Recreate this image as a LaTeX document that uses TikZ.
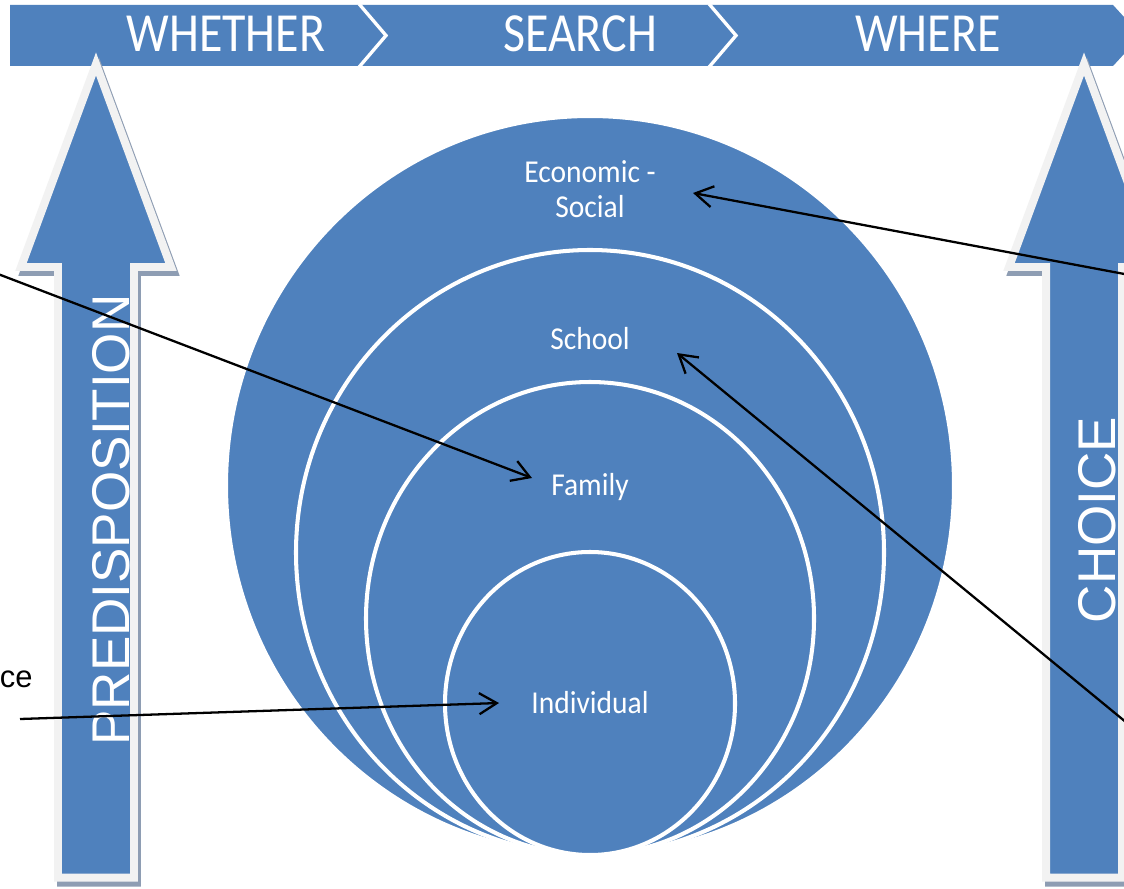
\documentclass[tikz,border=0pt]{standalone}
\usepackage{graphicx}
\usepackage{fontspec}
\setmainfont{Carlito}
\newfontfamily\arialish{Liberation Sans}
\usetikzlibrary{arrows.meta}
\definecolor{accent}{HTML}{4F81BD}
\definecolor{rim}{HTML}{F2F2F2}
\definecolor{shade}{HTML}{8E9DB3}

\begin{document}
\begin{tikzpicture}[x=0.02cm,y=-0.02cm,
  bartext/.style={text=white, font=\fontsize{27.3}{30}\selectfont, anchor=base, inner sep=0},
  ringlabel/.style={text=white, font=\fontsize{16.8}{20}\selectfont, anchor=base, inner sep=0},
  sidelabel/.style={text=white, font=\arialish\fontsize{30.2}{34}\selectfont, rotate=90, anchor=base, inner sep=0},
  ring/.style={fill=accent, draw=white, line width=2.3pt},
  pointer/.style={draw=black, line width=1.3pt, -{Straight Barb[length=10pt,width=12pt]}},
  uparrow/.style={fill=accent, draw=rim, line width=4.55pt, miter limit=10},
  upshadow/.style={fill=shade, draw=shade, line width=4.55pt, miter limit=10}
]
\useasboundingbox (0,0) rectangle (1124,888);
\fill[white] (0,0) rectangle (1124,888);
\clip (0,0) rectangle (1124,888);

% stage bar with chevron separators
\fill[accent] (10,5) -- (1113,5) -- (1141,35.5) -- (1113,66) -- (10,66) -- cycle;
\draw[white, line width=1.9pt] (359.1,4) -- (386,35.5) -- (359.1,67);
\draw[white, line width=1.9pt] (709.1,4) -- (736,35.5) -- (709.1,67);
\node[bartext] (whether) at (226,52) {\scalebox{1}[1.15]{WHETHER}};
\node[bartext] (search) at (580,52) {\scalebox{1}[1.15]{SEARCH}};
\node[bartext] (where) at (928,52) {\scalebox{1}[1.15]{WHERE}};

% upward block arrows with drop shadow
\begin{scope}[shift={(3,5)}]
  \path[upshadow] (96,64) -- (171,267) -- (134,267) -- (134,877.5) -- (58,877.5) -- (58,267) -- (21,267) -- cycle;
  \path[upshadow] (1084,64) -- (1159,267) -- (1122,267) -- (1122,877.5) -- (1046,877.5) -- (1046,267) -- (1009,267) -- cycle;
\end{scope}
\path[uparrow] (96,64) -- (171,267) -- (134,267) -- (134,877.5) -- (58,877.5) -- (58,267) -- (21,267) -- cycle;
\path[uparrow] (1084,64) -- (1159,267) -- (1122,267) -- (1122,877.5) -- (1046,877.5) -- (1046,267) -- (1009,267) -- cycle;
\node[sidelabel] (predisp) at (129,520) {PREDISPOSITION};
\node[sidelabel] (choice) at (1115,520) {CHOICE};

% stacked circles, tangent at the bottom
\path[ring] (590,485.5) ellipse [x radius=364, y radius=369.5];
\path[ring] (590,552.5) ellipse [x radius=294, y radius=302.5];
\path[ring] (590,618.5) ellipse [x radius=224, y radius=236.5];
\path[ring] (590,703.5) ellipse [x radius=145, y radius=151.5];

\node[ringlabel] (econ) at (590,183) {\scalebox{1}[1.08]{Economic -}};
\node[ringlabel] (social) at (590,217.5) {\scalebox{1}[1.08]{Social}};
\node[ringlabel] (school) at (590,349) {\scalebox{1}[1.08]{School}};
\node[ringlabel] (family) at (590,495) {\scalebox{1}[1.08]{Family}};
\node[ringlabel] (indiv) at (590,713) {\scalebox{1}[1.08]{Individual}};

\node[font=\arialish\fontsize{17.6}{20}\selectfont, anchor=base east, inner sep=0] (cefrag) at (33,687) {ce};

% pointers
\coordinate (famsrc) at (-2,274);
\coordinate (famtip) at (532,478);
\coordinate (indsrc) at (20,719);
\coordinate (indtip) at (499,703);
\coordinate (ecosrc) at (1127,274.5);
\coordinate (ecotip) at (693,193);
\coordinate (schsrc) at (1127,723);
\coordinate (schtip) at (677,353);
\draw[pointer] (famsrc) -- (famtip);
\draw[pointer] (indsrc) -- (indtip);
\draw[pointer] (ecosrc) -- (ecotip);
\draw[pointer] (schsrc) -- (schtip);
\end{tikzpicture}
\end{document}
